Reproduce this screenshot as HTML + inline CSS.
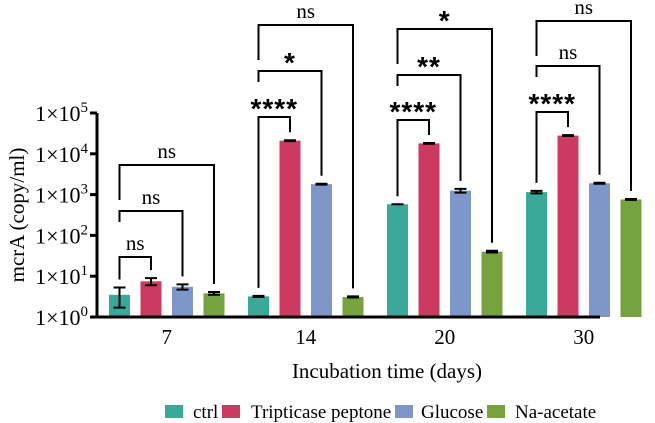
<!DOCTYPE html>
<html><head><meta charset="utf-8"><style>
body{margin:0;background:#fff}
svg{display:block;font-family:"Liberation Serif",serif}
</style></head><body>
<svg id="chart" width="655" height="423" viewBox="0 0 655 423" xmlns="http://www.w3.org/2000/svg">
<g id="g"></g>
</svg>
<script>
const categories = ["7","14","20","30"];
const seriesNames = ["ctrl","Tripticase peptone","Glucose","Na-acetate"];
const colors = ["#3aa99a","#cc3a62","#7f97c8","#76a33d"];
const ctrlVals = [3.5,3.2,580,1150];
const tripVals = [7.5,21000,18000,28000];
const glucVals = [5.5,1800,1250,1900];
const acetVals = [3.8,3.1,40,760];
const ctrlErr = [1.8,0.1,0,80];
const tripErr = [1.5,500,400,600];
const glucErr = [0.8,40,130,50];
const acetErr = [0.3,0.1,2,20];
const yTicks = [0,1,2,3,4,5];
// brackets: [group, target series, bracket y, label]
const brackets = [
 [0,1,257,"ns"],[0,2,211,"ns"],[0,3,165,"ns"],
 [1,1,117,"****"],[1,2,71,"*"],[1,3,25,"ns"],
 [2,1,120,"****"],[2,2,75,"**"],[2,3,29,"*"],
 [3,1,112,"****"],[3,2,66,"ns"],[3,3,21,"ns"]
];
const vals=[ctrlVals,tripVals,glucVals,acetVals], errs=[ctrlErr,tripErr,glucErr,acetErr];
const NS="http://www.w3.org/2000/svg", g=document.getElementById('g');
const x0=97, base=317, dec=40.8;
const y=v=>base-Math.log10(v)*dec;
const barW=21, groupStep=139, firstX=109, barStep=31.5;
const bx=(gi,si)=>firstX+gi*groupStep+si*barStep;
const bc=(gi,si)=>bx(gi,si)+barW/2;
function el(t,a,txt){const e=document.createElementNS(NS,t);for(const k in a)e.setAttribute(k,a[k]);if(txt!=null)e.textContent=txt;g.appendChild(e);return e;}
// bars
for(let s=0;s<4;s++)for(let c=0;c<4;c++){
 const v=vals[s][c],e=errs[s][c];
 const r=el('rect',{x:bx(c,s),y:y(v),width:barW,height:base-y(v),fill:colors[s]});
 
 
 const cx=bc(c,s),hi=y(v+e),lo=y(Math.max(v-e,1));
 const p=el('path',{d:`M${cx},${hi}V${lo}M${cx-6},${hi}H${cx+6}M${cx-6},${lo}H${cx+6}`,stroke:'#000','stroke-width':2,fill:'none'});
 
 
}
// axes
const ax=el('path',{d:`M${x0},113V${base}H600`,stroke:'#000','stroke-width':3,fill:'none'});


yTicks.forEach(t=>{
 const yy=y(Math.pow(10,t));
 const tk=el('line',{x1:90,x2:x0,y1:yy,y2:yy,stroke:'#000','stroke-width':3});
 
 
 const tx=el('text',{x:88,y:yy+8,'text-anchor':'end','font-size':22});
 
 
 tx.innerHTML=`1×10<tspan font-size="15" dy="-9">${t}</tspan>`;
});
categories.forEach((c,i)=>{
 const cx=(bc(i,1)+bc(i,2))/2;
 const t=el('text',{x:cx,y:344,'text-anchor':'middle','font-size':21},c);
 
 
});
const xt=el('text',{x:387,y:378,'text-anchor':'middle','font-size':21},'Incubation time (days)');


const yt=el('text',{x:0,y:0,'text-anchor':'middle','font-size':21,transform:'translate(24,215) rotate(-90)'},'mcrA (copy/ml)');


// brackets
brackets.forEach(([gi,si,by,lab],k)=>{
 const lx=bc(gi,0),rx=bc(gi,si);
 const rEnd=y(vals[si][gi]+errs[si][gi])-8;
 let lEnd = si===1 ? y(vals[0][gi]+errs[0][gi])-8 : (si===2? by+11 : by+35);
 const p=el('path',{d:`M${lx},${lEnd}V${by}H${rx}V${rEnd}`,stroke:'#000','stroke-width':2,fill:'none'});
 
 
 const star=lab!=='ns';
 const t=el('text',{x:(lx+rx)/2,y:star?by+1:by-7,'text-anchor':'middle','font-size':star?28:21,'font-weight':star?'bold':'normal','font-family':star?'"Liberation Sans",sans-serif':'"Liberation Serif",serif','letter-spacing':star?'1':'0'},lab);
 
 
});
// legend
const legX=[165,222,395,487], legTX=[193,251,421,515];
seriesNames.forEach((n,i)=>{
 const r=el('rect',{x:legX[i],y:405,width:18,height:13,fill:colors[i]});
 
 
 const t=el('text',{x:legTX[i],y:418,'font-size':19},n);
 
 
});
</script>
</body></html>
